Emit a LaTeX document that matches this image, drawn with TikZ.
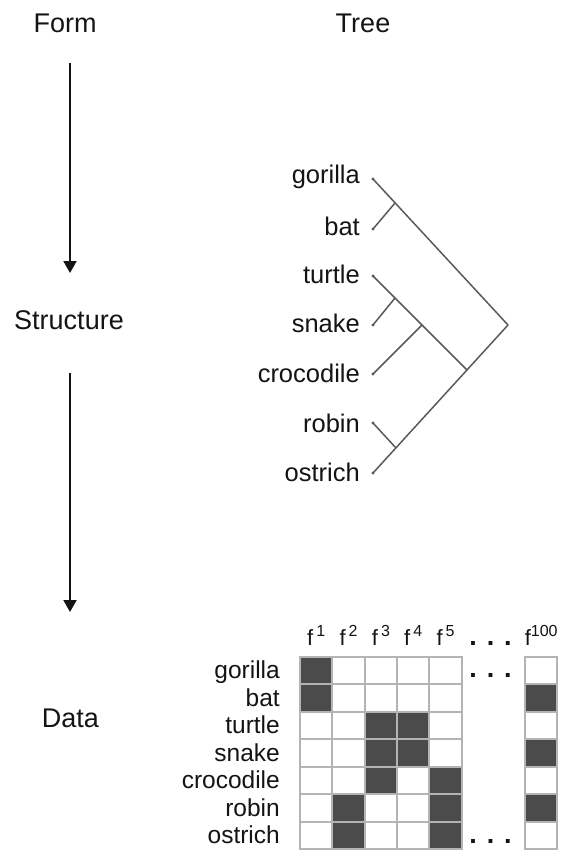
\documentclass[tikz,border=0pt]{standalone}
\usepackage{fontspec}
\setmainfont{Liberation Sans}
\usetikzlibrary{arrows.meta}

\definecolor{ink}{HTML}{141414}
\definecolor{branch}{HTML}{5A5A5A}
\definecolor{gridline}{HTML}{B4B4B4}
\definecolor{cellon}{HTML}{4B4B4B}

\tikzset{
  title/.style={font=\fontsize{27}{32}\selectfont, text=ink, inner sep=0pt, anchor=base},
  leaf/.style={font=\fontsize{25.5}{30}\selectfont, text=ink, inner sep=0pt, anchor=base east},
  rowlabel/.style={font=\fontsize{24.5}{29}\selectfont, text=ink, inner sep=0pt, anchor=base east},
  colhead/.style={font=\fontsize{22}{26}\selectfont, text=ink, inner sep=0pt, anchor=base},
  ellipsis/.style={font=\bfseries\fontsize{27}{27}\selectfont, text=ink, inner sep=0pt, anchor=base},
  tip/.style={circle, fill=branch, inner sep=0pt, minimum size=3.4pt},
  branchline/.style={draw=branch, line width=1.5pt},
  flow/.style={draw=ink, line width=2pt, -{Triangle[width=13pt,length=12pt]}},
  gridrule/.style={draw=gridline, line width=2pt},
}

\newcommand{\feat}[1]{f\hspace{3pt}\raisebox{9pt}{\fontsize{16}{16}\selectfont #1}}

\begin{document}
\begin{tikzpicture}[x=1pt, y=-1pt]
  \useasboundingbox[fill=white] (0,0) rectangle (563,850);

  % column titles and the left-hand sequence
  \node[title] (form) at (65,33) {Form};
  \node[title] (tree) at (363,33) {Tree};
  \node[title] (structure) at (69,329) {Structure};
  \node[title] (data) at (70.5,727) {Data};

  \coordinate (f-top) at (70,63);
  \coordinate (f-bot) at (70,273);
  \coordinate (s-top) at (70,373);
  \coordinate (s-bot) at (70,612);
  \draw[flow] (f-top) -- (f-bot);
  \draw[flow] (s-top) -- (s-bot);

  % leaves of the tree
  \foreach \name/\dy/\by in {gorilla/179/184, bat/229/236, turtle/276/283,
      snake/325/332, crocodile/374/382, robin/423/432, ostrich/473/481} {
    \node[leaf] (l-\name) at (360,\by) {\name};
    \node[tip] (d-\name) at (373,\dy) {};
  }

  % internal nodes of the tree
  \coordinate (root) at (508,325);
  \coordinate (gb) at (395,203);
  \coordinate (rb) at (467,370);
  \coordinate (ts) at (395,298);
  \coordinate (tc) at (422,325);
  \coordinate (ro) at (396,448);

  \draw[branchline] (d-gorilla.center) -- (root);
  \draw[branchline] (d-bat.center) -- (gb);
  \draw[branchline] (d-ostrich.center) -- (root);
  \draw[branchline] (d-turtle.center) -- (rb);
  \draw[branchline] (d-snake.center) -- (ts);
  \draw[branchline] (d-crocodile.center) -- (tc);
  \draw[branchline] (d-robin.center) -- (ro);

  % feature matrix: filled cells
  \foreach \row/\xs in {0/{300}, 1/{300,525}, 2/{364.7,397}, 3/{364.7,397,525},
      4/{364.7,429.4}, 5/{332.3,429.4,525}, 6/{332.3,429.4}} {
    \foreach \x in \xs {
      \fill[cellon] (\x,{656.7+\row*27.5}) rectangle ++(32.3,27.5);
    }
  }

  % feature matrix: cell borders
  \foreach \x in {300,332.3,364.7,397,429.4,461.7,525,557.3} {
    \draw[gridrule] (\x,656.7) -- (\x,849.2);
  }
  \foreach \j in {0,...,7} {
    \draw[gridrule] (299,{656.7+\j*27.5}) -- (462.7,{656.7+\j*27.5});
    \draw[gridrule] (524,{656.7+\j*27.5}) -- (558.3,{656.7+\j*27.5});
  }

  % row labels
  \foreach \name [count=\i from 0] in {gorilla, bat, turtle, snake, crocodile, robin, ostrich} {
    \node[rowlabel] (r-\name) at (280,{678.5+\i*27.5}) {\name};
  }

  % column headings
  \node[colhead] (h1) at (316.2,645) {\feat{1}};
  \node[colhead] (h2) at (348.5,645) {\feat{2}};
  \node[colhead] (h3) at (380.9,645) {\feat{3}};
  \node[colhead] (h4) at (413.2,645) {\feat{4}};
  \node[colhead] (h5) at (445.6,645) {\feat{5}};
  \node[colhead] (h100) at (541.2,645) {f\raisebox{9pt}{\fontsize{16}{16}\selectfont 100}};

  % omitted columns
  \node[ellipsis] (e-head) at (490.5,645) {. . .};
  \node[ellipsis] (e-top) at (490.5,677) {. . .};
  \node[ellipsis] (e-bot) at (490.5,843.5) {. . .};
\end{tikzpicture}
\end{document}
